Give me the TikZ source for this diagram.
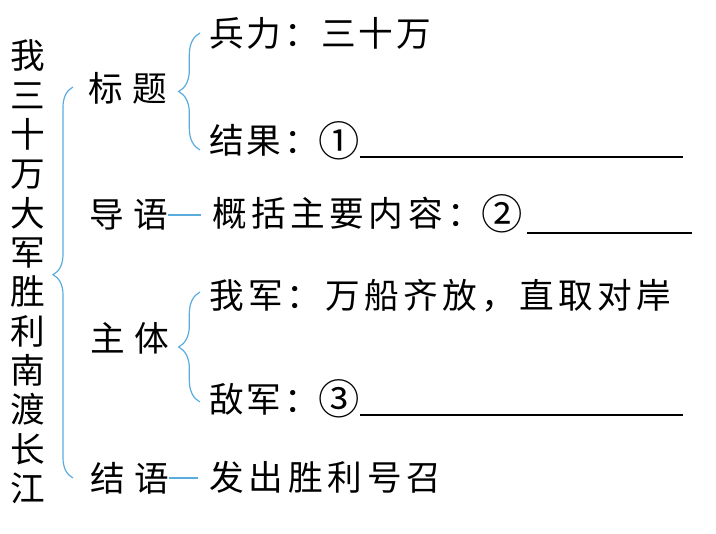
\documentclass[tikz,border=0pt]{standalone}
\usepackage{fontspec}
\setmainfont{Noto Sans CJK SC}[LetterSpace=8]
\usetikzlibrary{positioning, decorations.pathreplacing}
\definecolor{bracketblue}{RGB}{90,172,222}
\newcommand{\circnum}[1]{{\fontsize{31}{31}\selectfont\raisebox{-2pt}{#1}}}

\begin{document}
\begin{tikzpicture}[x=0.75pt, y=-0.75pt,
  every node/.style={inner sep=0pt, font=\fontsize{26}{29.5}\selectfont},
  part/.style={anchor=west, font=\fontsize{26}{29.5}\selectfont\addfontfeature{LetterSpace=27}},
  item/.style={anchor=base west},
  link/.style={draw=bracketblue, line width=0.9pt},
  bracket/.style={link, decorate, decoration={brace, amplitude=#1, aspect=0.5}},
  blank/.style={draw=black, line width=0.8pt}
]
  \useasboundingbox (0,0) rectangle (716,534);

  % Vertical title on the left
  \node[align=center, font=\fontsize{26}{29.5}\selectfont\addfontfeature{LetterSpace=0}] (title) at (28,272)
    {我\\三\\十\\万\\大\\军\\胜\\利\\南\\渡\\长\\江};

  % Parts of the text
  \node[part] (bt) at (88,88) {标题};
  \node[part] (dy) at (89,215) {导语};
  \node[part] (zt) at (90,338) {主体};
  \node[part] (jy) at (90,478) {结语};

  % Contents (placed on their baselines)
  \node[item] (bl) at (209,47) {兵力：三十万};
  \node[item] (jg) at (209,154) {结果：\circnum{①}};
  \node[item] (gk) at (212,227) {\addfontfeature{LetterSpace=13}概括主要内容：\circnum{②}};
  \node[item] (wj) at (209,308) {\addfontfeature{LetterSpace=12}我军：万船齐放，直取对岸};
  \node[item] (dj) at (209,412) {敌军：\circnum{③}};
  \node[item] (fc) at (209,490) {\addfontfeature{LetterSpace=14}发出胜利号召};

  % Brackets
  \draw[bracket=15pt, decoration={aspect=0.52}] (73,478) -- (73,87);
  \draw[bracket=16pt] (200,150) -- (200,33);
  \draw[bracket=16pt] (200,402) -- (200,292);

  % Single links
  \draw[link, shorten >=8pt] (dy.east) -- (dy.east -| gk.west);
  \draw[link, shorten >=8pt] (jy.east) -- (jy.east -| fc.west);

  % Blanks to fill in
  \draw[blank] (360,157) -- (683,157);
  \draw[blank] (527,233) -- (692,233);
  \draw[blank] (360,415) -- (683,415);
\end{tikzpicture}
\end{document}
